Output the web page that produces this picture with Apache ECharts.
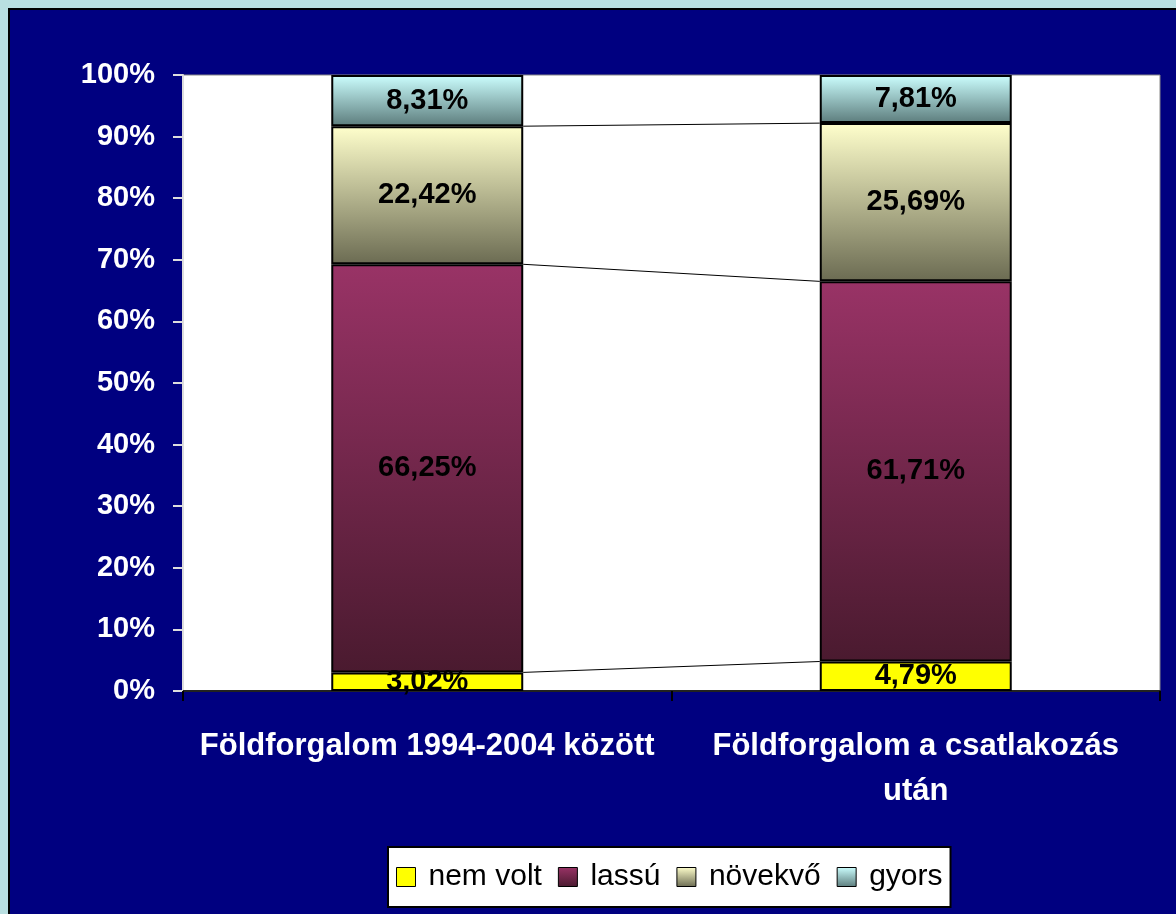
<!DOCTYPE html>
<html>
<head>
<meta charset="utf-8">
<script src="https://cdn.jsdelivr.net/npm/echarts@6/dist/echarts.min.js"></script>
<style>
  html, body { margin: 0; padding: 0; width: 1176px; height: 914px; background: #b9dfe1; overflow: hidden; }
  #main { position: absolute; left: 8px; top: 8px; width: 1168px; height: 906px; border-left: 2px solid #000; border-top: 2px solid #000; }
</style>
</head>
<body>
<div id="main"></div>
<script>
var categories = ['Földforgalom 1994-2004 között', 'Földforgalom a csatlakozás\nután'];
var seriesNames = ['nem volt', 'lassú', 'növekvő', 'gyors'];
var nemVolt = [3.02, 4.79];
var lassu = [66.25, 61.71];
var novekvo = [22.42, 25.69];
var gyors = [8.31, 7.81];
var yTicks = [0, 10, 20, 30, 40, 50, 60, 70, 80, 90, 100];

var values = [nemVolt, lassu, novekvo, gyors];

// fill colours, light on top, dark at the bottom of each segment
function grad(top, bottom) {
    return new echarts.graphic.LinearGradient(0, 0, 0, 1, [
        { offset: 0, color: top },
        { offset: 1, color: bottom }
    ]);
}
var fills = [
    '#ffff00',
    grad('#993366', '#4a1a2f'),
    grad('#ffffcc', '#6b6b52'),
    grad('#ccffff', '#5c7c7c')
];

var fontName = '"Liberation Sans", Arial, sans-serif';
var barPct = 0.393;

// cumulative tops of each segment for the series lines
var cum = [[], []];
for (var c = 0; c < 2; c++) {
    var s = 0;
    for (var k = 0; k < values.length - 1; k++) {
        s += values[k][c];
        cum[c].push(s);
    }
}

var series = [];
for (var i = 0; i < values.length; i++) {
    series.push({
        name: seriesNames[i],
        type: 'bar',
        stack: 'total',
        barWidth: (barPct * 100) + '%',
        data: values[i],
        itemStyle: { color: fills[i], borderColor: '#000', borderWidth: 2 },
        label: {
            show: true,
            position: 'inside',
            color: '#000',
            fontFamily: fontName,
            fontWeight: 'bold',
            fontSize: 29,
            formatter: function (p) { return p.value.toFixed(2).replace('.', ',') + '%'; }
        },
        z: 3
    });
}

series.push({
    type: 'custom',
    silent: true,
    data: [[0]],
    z: 2,
    renderItem: function (params, api) {
        var bw = api.size([1, 0])[0] * barPct;
        var children = [];
        for (var k = 0; k < cum[0].length; k++) {
            var p1 = api.coord([0, cum[0][k]]);
            var p2 = api.coord([1, cum[1][k]]);
            children.push({
                type: 'line',
                shape: { x1: p1[0] + bw / 2, y1: p1[1], x2: p2[0] - bw / 2, y2: p2[1] },
                style: { stroke: '#000', lineWidth: 1 }
            });
        }
        return { type: 'group', children: children };
    }
});

var myChart = echarts.init(document.getElementById('main'));
var option = {
    backgroundColor: '#000080',
    animation: false,
    grid: {
        left: 173, right: 18, top: 65, bottom: 225,
        show: true, backgroundColor: '#ffffff', borderColor: '#888', borderWidth: 1
    },
    legend: {
        data: seriesNames,
        left: 378,
        top: 837,
        backgroundColor: '#ffffff',
        borderColor: '#000',
        borderWidth: 2,
        borderRadius: 0,
        padding: [15, 8, 15, 8],
        itemWidth: 19,
        itemHeight: 19,
        itemGap: 16,
        icon: 'rect',
        itemStyle: { borderColor: '#000', borderWidth: 1 },
        textStyle: { color: '#000', fontFamily: fontName, fontSize: 30, padding: [0, 0, 0, 8] }
    },
    xAxis: {
        type: 'category',
        data: categories,
        axisLine: { lineStyle: { color: '#222', width: 2 } },
        axisTick: { show: true, length: 10, lineStyle: { color: '#000', width: 2 } },
        axisLabel: {
            interval: 0,
            color: '#fff',
            fontFamily: fontName,
            fontWeight: 'bold',
            fontSize: 31,
            lineHeight: 45,
            margin: 33
        }
    },
    yAxis: {
        type: 'value',
        min: yTicks[0],
        max: yTicks[yTicks.length - 1],
        interval: 10,
        splitLine: { show: false },
        axisLine: { show: true, lineStyle: { color: '#ddd', width: 2 } },
        axisTick: { show: true, length: 10, lineStyle: { color: '#ddd', width: 2 } },
        axisLabel: {
            color: '#fff',
            fontFamily: fontName,
            fontWeight: 'bold',
            fontSize: 29,
            margin: 28,
            formatter: '{value}%'
        }
    },
    series: series
};
myChart.setOption(option);
</script>
</body>
</html>
